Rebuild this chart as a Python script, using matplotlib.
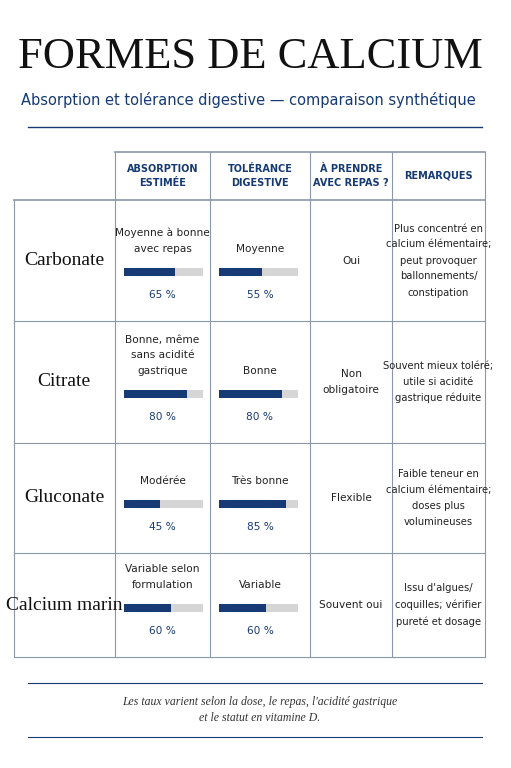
import matplotlib
matplotlib.use("Agg")
from matplotlib import pyplot as plt
from matplotlib.patches import Rectangle

# data
forms = ["Carbonate", "Citrate", "Gluconate", "Calcium marin"]
absorption_txt = ["Moyenne à bonne\navec repas", "Bonne, même\nsans acidité\ngastrique", "Modérée", "Variable selon\nformulation"]
absorption_pct = [65, 80, 45, 60]
tolerance_txt = ["Moyenne", "Bonne", "Très bonne", "Variable"]
tolerance_pct = [55, 80, 85, 60]
with_meal = ["Oui", "Non\nobligatoire", "Flexible", "Souvent oui"]
remarks = ["Plus concentré en\ncalcium élémentaire;\npeut provoquer\nballonnements/\nconstipation",
           "Souvent mieux toléré;\nutile si acidité\ngastrique réduite",
           "Faible teneur en\ncalcium élémentaire;\ndoses plus\nvolumineuses",
           "Issu d'algues/\ncoquilles; vérifier\npureté et dosage"]
headers = ["ABSORPTION\nESTIMÉE", "TOLÉRANCE\nDIGESTIVE", "À PRENDRE\nAVEC REPAS ?", "REMARQUES"]

NAVY = "#163a73"
GREY = "#d6d6d6"
LINE = "#8a96aa"
SANS = ["Liberation Sans Narrow", "DejaVu Sans"]
SERIF = ["Liberation Serif", "DejaVu Serif"]

fig = plt.figure(figsize=(5.11, 7.68), dpi=100)
ax = fig.add_axes([0, 0, 1, 1])
ax.set_xlim(0, 511)
ax.set_ylim(768, 0)
ax.axis("off")

ax.text(250, 57, "FORMES DE CALCIUM", fontsize=32, family=SERIF, ha="center", va="center", color="#111111")
ax.text(248, 100, "Absorption et tolérance digestive — comparaison synthétique", fontsize=10.5,
        family=["DejaVu Sans"], ha="center", va="center", color=NAVY)
ax.plot([28, 482], [127, 127], color=NAVY, lw=1)

cols = [14, 115, 210, 310, 392, 485]
rows = [200, 321, 443, 553, 657]
head_top = 152

# grid
ax.plot([115, 485], [head_top, head_top], color=LINE, lw=1.2)
for x in cols[1:]:
    ax.plot([x, x], [head_top, rows[-1]], color=LINE, lw=0.8)
ax.plot([14, 14], [rows[0], rows[-1]], color=LINE, lw=0.8)
ax.plot([14, 485], [rows[0], rows[0]], color=LINE, lw=1.2)
for y in rows[1:]:
    ax.plot([14, 485], [y, y], color=LINE, lw=0.8)

for i, h in enumerate(headers):
    cx = (cols[i + 1] + cols[i + 2]) / 2
    ax.text(cx, 176, h, fontsize=7, family=SANS, weight="bold", ha="center", va="center",
            color=NAVY, linespacing=1.6)

bar_w = 79
for r in range(len(forms)):
    y0, y1 = rows[r], rows[r + 1]
    cy = (y0 + y1) / 2
    ax.text(64, cy, forms[r], fontsize=14, family=SERIF, ha="center", va="center", color="#111111")
    bar_y = y1 - 49
    for c, (txt, pct) in enumerate([(absorption_txt[r], absorption_pct[r]), (tolerance_txt[r], tolerance_pct[r])]):
        x0 = cols[c + 1] + 9
        cx = (cols[c + 1] + cols[c + 2]) / 2
        ax.text(cx, bar_y - 18, txt, fontsize=7.6, family=SANS, ha="center", va="bottom",
                color="#222222", linespacing=1.7)
        ax.add_patch(Rectangle((x0, bar_y - 4), bar_w, 8, color=GREY, lw=0))
        ax.add_patch(Rectangle((x0, bar_y - 4), bar_w * pct / 100, 8, color=NAVY, lw=0))
        ax.text(cx, bar_y + 23, f"{pct} %", fontsize=7.6, family=SANS, ha="center", va="center", color=NAVY)
    ax.text((cols[3] + cols[4]) / 2, cy, with_meal[r], fontsize=7.6, family=SANS, ha="center",
            va="center", color="#222222", linespacing=1.7)
    ax.text((cols[4] + cols[5]) / 2, cy, remarks[r], fontsize=7.2, family=SANS, ha="center",
            va="center", color="#222222", linespacing=1.75)

ax.plot([28, 482], [683, 683], color=NAVY, lw=0.8)
ax.plot([28, 482], [737, 737], color=NAVY, lw=0.8)
ax.text(260, 710, "Les taux varient selon la dose, le repas, l'acidité gastrique\net le statut en vitamine D.",
        fontsize=8.5, family=SERIF, style="italic", ha="center", va="center", color="#333333", linespacing=1.5)

fig.savefig("out.png", dpi=100)
